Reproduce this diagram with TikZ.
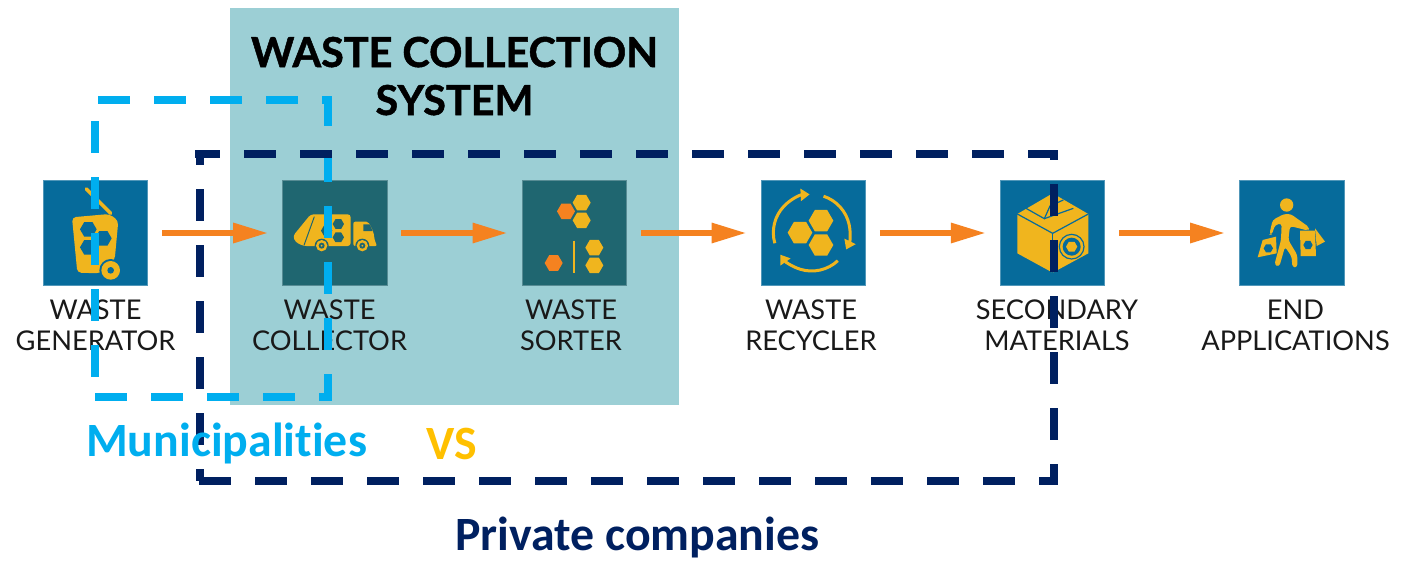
\documentclass[tikz,border=0pt]{standalone}
\usepackage{fontspec}
\setmainfont{Lato}
\newfontfamily\carl[Ligatures=NoCommon]{Carlito}
\newfontfamily\heavy[BoldFeatures={FakeBold=1.2}]{Lato}
\usetikzlibrary{arrows.meta}
\definecolor{panelc}{HTML}{9CCFD5}
\definecolor{darksq}{HTML}{1F6670}
\definecolor{bluesq}{HTML}{066B9B}
\definecolor{iconc}{HTML}{F0B51E}
\definecolor{orangec}{HTML}{F58220}
\definecolor{muni}{HTML}{00AEEF}
\definecolor{navyc}{HTML}{002060}
\definecolor{vsc}{HTML}{FFC000}
\newcommand\hexa[4]{\fill[#1,shift={(#2,#3)}] (0:#4)--(60:#4)--(120:#4)--(180:#4)--(240:#4)--(300:#4)--cycle;}
\tikzset{
  sqbase/.style={minimum size=104.5pt,inner sep=0pt,line width=0.7pt},
  sqblue/.style={sqbase,fill=bluesq,draw=bluesq!70!white},
  sqdark/.style={sqbase,fill=darksq,draw=darksq!75!white},
  flowarr/.style={draw=orangec,line width=6pt,shorten >=14pt,shorten <=14pt,-{Triangle[length=35pt,width=19pt,fill=orangec]}},
  lbl/.style={anchor=base,align=center,font=\fontsize{27.2}{31}\selectfont,text=black!90,inner sep=0pt},
  dashmuni/.style={draw=muni,line width=8pt,dash pattern=on 32pt off 24pt},
  dashnavy/.style={draw=navyc,line width=8pt,dash pattern=on 32pt off 24pt},
  cyc/.style={draw=iconc,line width=3pt},
  cycarr/.style={cyc,-{Triangle[length=9pt,width=12pt,fill=iconc]}},
}
\begin{document}
\begin{tikzpicture}[x=1pt,y=-1pt]
\useasboundingbox (0,0) rectangle (1414,560);
\fill[white] (0,0) rectangle (1414,560);
\fill[panelc] (229.5,8) rectangle (679,405);
\node[anchor=base,align=center,inner sep=0pt,font=\heavy\bfseries\fontsize{41.3}{48}\selectfont,text=black] (title) at (454.5,115) {WASTE COLLECTION\\SYSTEM};

\node[sqblue] (n1) at (95.5,233) {};
\node[sqdark] (n2) at (334.8,233) {};
\node[sqdark] (n3) at (574.2,233) {};
\node[sqblue] (n4) at (813.2,233) {};
\node[sqblue] (n5) at (1052.5,233) {};
\node[sqblue] (n6) at (1291.7,233) {};

\node[lbl] (l1) at (95.5,350) {WASTE\\GENERATOR};
\node[lbl] (l2) at (329.5,350) {WASTE\\COLLECTOR};
\node[lbl] (l3) at (571,350) {WASTE\\SORTER};
\node[lbl] (l4) at (811,350) {WASTE\\RECYCLER};
\node[lbl] (l5) at (1057,350) {SECONDARY\\MATERIALS};
\node[lbl] (l6) at (1295.5,350) {END\\APPLICATIONS};

\draw[flowarr] (n1) -- (n2);
\draw[flowarr] (n2) -- (n3);
\draw[flowarr] (n3) -- (n4);
\draw[flowarr] (n4) -- (n5);
\draw[flowarr] (n5) -- (n6);

% icons 1 and 2
\begin{scope}[shift={(20,160)},x=1/3*1pt,y=-1/3*1pt]
  \draw[iconc,line width=3.6pt,line cap=round] (199,87) -- (272,160);
  \fill[iconc,rounded corners=4pt] (156,172) -- (268,162) -- (295,182) -- (284,300) -- (240,340) -- (172,338) -- cycle;
  \hexa{bluesq}{205}{208}{25}
  \hexa{bluesq}{250}{235}{25}
  \hexa{bluesq}{205}{262}{25}
  \fill[bluesq] (272,331) circle[radius=34];
  \fill[iconc] (272,331) circle[radius=28];
  \fill[bluesq] (272,331) circle[radius=10];
  % truck
  \fill[iconc,rounded corners=3pt] (872,163) -- (992,163) -- (992,258) -- (850,258) -- (826,246) -- (819,228) -- cycle;
  \draw[darksq,line width=1pt] (883,170) -- (852,256);
  \fill[iconc,rounded corners=2pt] (1000,185) -- (1045,185) -- (1060,215) -- (1065,245) -- (1072,258) -- (1000,258) -- cycle;
  \fill[darksq] (1030,193) -- (1049,193) -- (1058,213) -- (1030,213) -- cycle;
  \hexa{darksq}{955}{192}{17}
  \hexa{darksq}{955}{232}{17}
  \hexa{darksq}{920}{212}{17}
  \foreach \wx in {905,1027}{
    \fill[darksq] (\wx,257) circle[radius=21];
    \fill[iconc] (\wx,257) circle[radius=17];
    \fill[darksq] (\wx,257) circle[radius=9];
    \fill[iconc] (\wx,257) circle[radius=3];
  }
\end{scope}

% icons 3 and 4
\begin{scope}[shift={(500,160)},x=1/3*1pt,y=-1/3*1pt]
  \hexa{iconc}{245}{128}{27}
  \hexa{iconc}{245}{181}{27}
  \hexa{orangec}{198}{154}{27}
  \hexa{iconc}{283}{263}{27}
  \hexa{iconc}{283}{316}{27}
  \hexa{orangec}{161}{309}{27}
  \draw[iconc,line width=2pt] (222,242) -- (222,338);
  % recycler
  \hexa{iconc}{900}{218}{37}
  \hexa{iconc}{963}{182}{37}
  \hexa{iconc}{963}{255}{37}
  \draw[cycarr] ([shift={(935,218)}]164:115) arc[start angle=164,end angle=267,radius=115];
  \draw[cycarr] ([shift={(935,218)}]288:115) arc[start angle=288,end angle=386,radius=115];
  \draw[cycarr] ([shift={(935,218)}]47:115) arc[start angle=47,end angle=145,radius=115];
\end{scope}

% icons 5 and 6
\begin{scope}[shift={(960,140)},x=1/3*1pt,y=-1/3*1pt]
  \fill[iconc] (278,160) -- (385,222) -- (385,340) -- (278,398) -- (172,340) -- (172,222) -- cycle;
  \draw[bluesq,line width=1.2pt] (172,222) -- (278,280) -- (385,222);
  \draw[bluesq,line width=1.2pt] (278,280) -- (278,398);
  \draw[bluesq,line width=1.2pt] (198,205) -- (253,236) -- (270,198) -- (310,180);
  \draw[bluesq,line width=1.2pt] (253,236) -- (340,205);
  \draw[bluesq,line width=1.2pt] (335,320) circle[radius=37];
  \fill[bluesq] (335,320) circle[radius=27];
  \hexa{iconc}{335}{320}{17}
  % person
  \fill[iconc] (980,195) circle[radius=20];
  \fill[iconc,rounded corners=3pt] (972,222) -- (992,222) -- (1048,262) -- (1045,272) -- (990,258) -- (985,300) -- (1012,345) -- (1012,382) -- (997,382) -- (995,350) -- (975,320) -- (958,380) -- (943,375) -- (963,300) -- (965,250) -- (945,255) -- (935,285) -- (928,283) -- (938,240) -- cycle;
  \fill[iconc] (908,300) -- (948,290) -- (950,340) -- (893,352) -- cycle;
  \hexa{bluesq}{925}{325}{14}
  \fill[iconc] (1020,272) -- (1065,272) -- (1068,348) -- (1022,348) -- cycle;
  \hexa{bluesq}{1044}{315}{14}
  \fill[iconc] (1065,265) -- (1095,305) -- (1070,318) -- cycle;
\end{scope}

% Municipalities dashed frame
\coordinate (bTLa) at (98,100);
\coordinate (bTRa) at (332,100);
\coordinate (bTRb) at (328,96);
\coordinate (bBRb) at (328,401);
\coordinate (bBLa) at (95,397);
\coordinate (bBRa) at (332,397);
\coordinate (bTLb) at (95,121);
\coordinate (bBLb) at (95,377);
\draw[dashmuni] (bTLa) -- (bTRa);
\draw[dashmuni,dash phase=2pt] (bTRb) -- (bBRb);
\draw[dashmuni] (bBLa) -- (bBRa);
\draw[dashmuni] (bTLb) -- (bBLb);

% Private companies dashed frame
\coordinate (nTLa) at (195,154);
\coordinate (nTRa) at (1058,154);
\coordinate (nTLb) at (199.5,150);
\coordinate (nBLb) at (199.5,481);
\coordinate (nBLa) at (199,481);
\coordinate (nBRa) at (1058,481);
\coordinate (nTRb) at (1054,150);
\coordinate (nBRb) at (1054,485);
\draw[dashnavy,dash phase=7pt] (nTLa) -- (nTRa);
\draw[dashnavy,dash phase=17pt] (nTLb) -- (nBLb);
\draw[dashnavy] (nBLa) -- (nBRa);
\draw[dashnavy,dash phase=22pt] (nTRb) -- (nBRb);

\node[anchor=base west,inner sep=0pt,font=\carl\bfseries\fontsize{47.8}{56}\selectfont,text=muni] (t1) at (86,456) {Municipalities};
\node[anchor=base west,inner sep=0pt,font=\carl\bfseries\fontsize{47.8}{56}\selectfont,text=vsc] (t2) at (426,459) {VS};
\node[anchor=base west,inner sep=0pt,font=\carl\bfseries\fontsize{47.8}{56}\selectfont,text=navyc] (t3) at (455,550) {Private companies};
\end{tikzpicture}
\end{document}
